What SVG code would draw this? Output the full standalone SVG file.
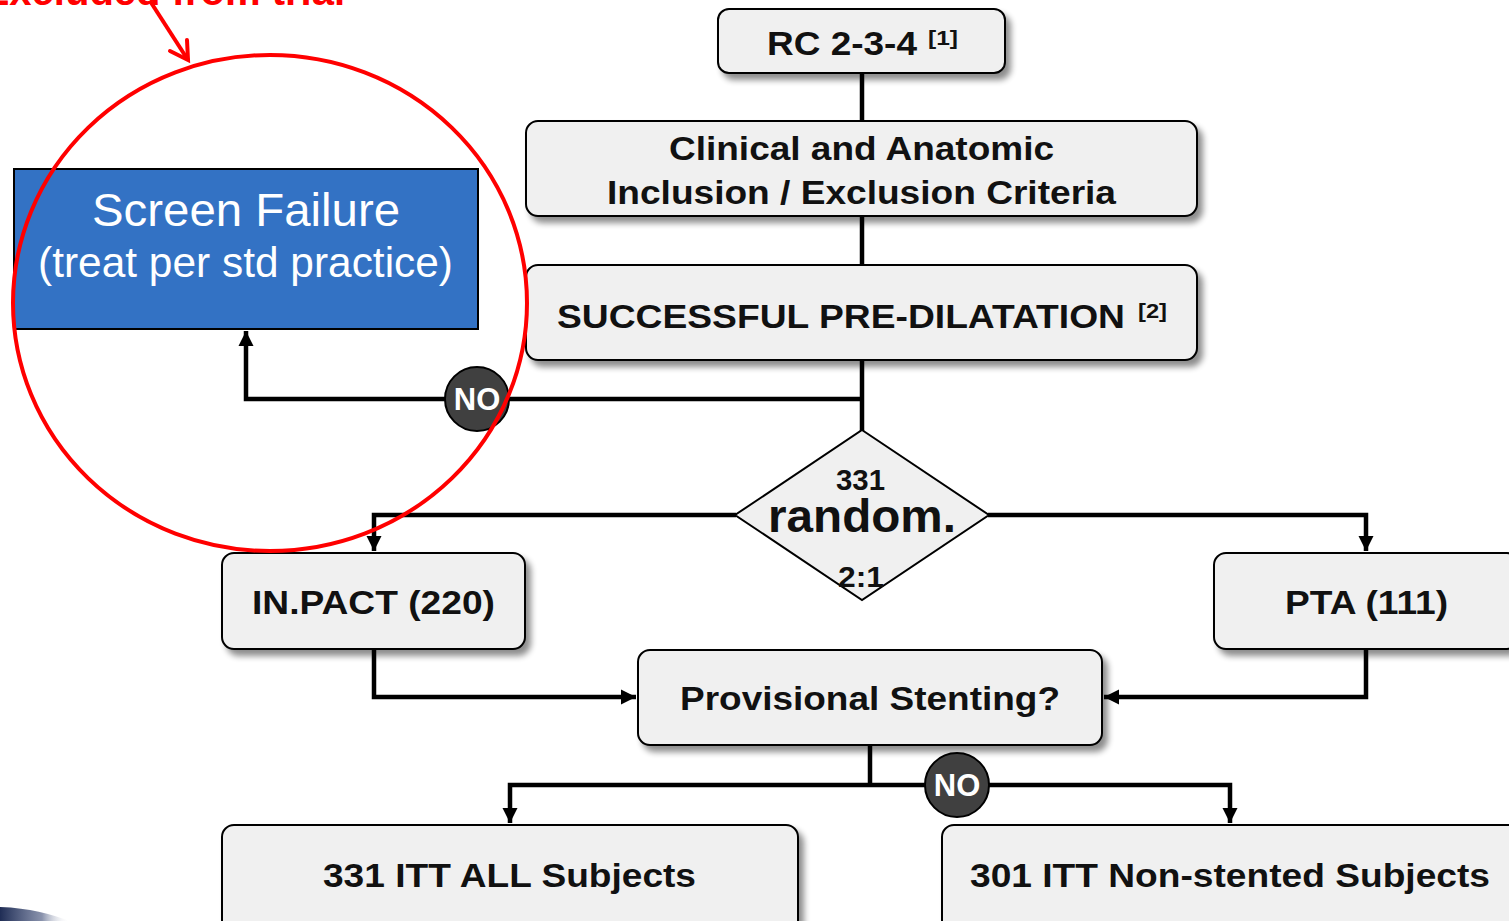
<svg xmlns="http://www.w3.org/2000/svg" width="1509" height="921" viewBox="0 0 1509 921">
<defs>
<filter id="sh" x="-10%" y="-20%" width="130%" height="150%">
<feGaussianBlur in="SourceAlpha" stdDeviation="3"/>
<feOffset dx="5" dy="6" result="b"/>
<feComponentTransfer><feFuncA type="linear" slope="0.45"/></feComponentTransfer>
<feMerge><feMergeNode/><feMergeNode in="SourceGraphic"/></feMerge>
</filter>
<marker id="ah" viewBox="0 0 10 10" refX="10" refY="5" markerWidth="3.4" markerHeight="3.4" orient="auto" markerUnits="strokeWidth">
<path d="M0,0 L10,5 L0,10 z" fill="#000"/>
</marker>
<linearGradient id="sw" x1="0" y1="0" x2="1" y2="0">
<stop offset="0" stop-color="#1f2d55"/>
<stop offset="0.6" stop-color="#3b4a75" stop-opacity="0.6"/>
<stop offset="1" stop-color="#ffffff" stop-opacity="0"/>
</linearGradient>
</defs>
<style>
.box{fill:#f0f0f0;stroke:#000;stroke-width:2;filter:url(#sh)}
.t{font-family:"Liberation Sans",Arial,sans-serif;font-weight:bold;fill:#111}
.c{fill:none;stroke:#000;stroke-width:4.5}
.no{fill:#404040;stroke:#000;stroke-width:2}
.not{font-family:"Liberation Sans",Arial,sans-serif;font-weight:bold;fill:#fff;font-size:31px;text-anchor:middle}
.w{font-family:"Liberation Sans",Arial,sans-serif;fill:#fff}
</style>
<rect width="1509" height="921" fill="#fff"/>
<path d="M0,907 C30,908 50,914 70,921 L0,921 Z" fill="url(#sw)"/>

<g id="connectors">
<path class="c" d="M862,73 V121"/>
<path class="c" d="M862,216 V265"/>
<path class="c" d="M862,360 V432"/>
<path class="c" d="M862,399 H246 V331" marker-end="url(#ah)"/>
<path class="c" d="M736,515 H374 V551" marker-end="url(#ah)"/>
<path class="c" d="M988,515 H1366 V551" marker-end="url(#ah)"/>
<path class="c" d="M374,649 V697 H636" marker-end="url(#ah)"/>
<path class="c" d="M1366,649 V697 H1104" marker-end="url(#ah)"/>
<path class="c" d="M870,745 V785"/>
<path class="c" d="M870,785 H510 V823" marker-end="url(#ah)"/>
<path class="c" d="M870,785 H1230 V823" marker-end="url(#ah)"/>
</g>

<g id="rc">
<rect class="box" x="718" y="9" width="287" height="64" rx="11"/>
<text class="t" x="767" y="55" font-size="34" textLength="150" lengthAdjust="spacingAndGlyphs">RC 2-3-4</text>
<text class="t" x="928" y="45" font-size="21" textLength="30" lengthAdjust="spacingAndGlyphs">[1]</text>
</g>

<g id="criteria">
<rect class="box" x="526" y="121" width="671" height="95" rx="12"/>
<text class="t" x="669" y="160" font-size="34" textLength="385" lengthAdjust="spacingAndGlyphs">Clinical and Anatomic</text>
<text class="t" x="607" y="204" font-size="34" textLength="509" lengthAdjust="spacingAndGlyphs">Inclusion / Exclusion Criteria</text>
</g>

<g id="predil">
<rect class="box" x="526" y="265" width="671" height="95" rx="12"/>
<text class="t" x="557" y="328" font-size="34" textLength="568" lengthAdjust="spacingAndGlyphs">SUCCESSFUL PRE-DILATATION</text>
<text class="t" x="1138" y="318" font-size="21" textLength="29" lengthAdjust="spacingAndGlyphs">[2]</text>
</g>

<g id="screen-failure">
<rect x="14" y="169" width="464" height="160" fill="#3372c4" stroke="#000" stroke-width="2"/>
<text class="w" x="92" y="226" font-size="47" textLength="308" lengthAdjust="spacingAndGlyphs">Screen Failure</text>
<text class="w" x="38" y="277" font-size="42" textLength="415" lengthAdjust="spacingAndGlyphs">(treat per std practice)</text>
</g>

<g id="no1">
<circle class="no" cx="477" cy="399" r="32"/>
<text class="not" x="477" y="410">NO</text>
</g>

<g id="random">
<path d="M862,430 L989,515 L862,600 L735,515 Z" fill="#f0f0f0" stroke="#000" stroke-width="2"/>
<text class="t" x="836" y="490" font-size="29" textLength="49" lengthAdjust="spacingAndGlyphs">331</text>
<text class="t" x="768" y="532" font-size="47" textLength="188" lengthAdjust="spacingAndGlyphs">random.</text>
<text class="t" x="838" y="587" font-size="29" textLength="46" lengthAdjust="spacingAndGlyphs">2:1</text>
</g>

<g id="inpact">
<rect class="box" x="222" y="553" width="303" height="96" rx="12"/>
<text class="t" x="252" y="614" font-size="34" textLength="243" lengthAdjust="spacingAndGlyphs">IN.PACT (220)</text>
</g>

<g id="pta">
<rect class="box" x="1214" y="553" width="305" height="96" rx="12"/>
<text class="t" x="1285" y="614" font-size="34" textLength="163" lengthAdjust="spacingAndGlyphs">PTA (111)</text>
</g>

<g id="provisional">
<rect class="box" x="638" y="650" width="464" height="95" rx="12"/>
<text class="t" x="680" y="710" font-size="34" textLength="380" lengthAdjust="spacingAndGlyphs">Provisional Stenting?</text>
</g>

<g id="no2">
<circle class="no" cx="957" cy="785" r="32"/>
<text class="not" x="957" y="796">NO</text>
</g>

<g id="itt-all">
<rect class="box" x="222" y="825" width="576" height="110" rx="12"/>
<text class="t" x="323" y="887" font-size="34" textLength="373" lengthAdjust="spacingAndGlyphs">331 ITT ALL Subjects</text>
</g>

<g id="itt-ns">
<rect class="box" x="942" y="825" width="580" height="110" rx="12"/>
<text class="t" x="970" y="887" font-size="34" textLength="520" lengthAdjust="spacingAndGlyphs">301 ITT Non-stented Subjects</text>
</g>

<g id="annotation">
<text x="345" y="5" font-family="'Liberation Sans',Arial,sans-serif" font-weight="bold" font-size="40" fill="#ff0000" text-anchor="end">Excluded from trial</text>
<path d="M150,1 L188,60" stroke="#ff0000" stroke-width="4" fill="none"/>
<path d="M170,51 L188,60 L187,40" stroke="#ff0000" stroke-width="4" fill="none" stroke-linecap="round"/>
<ellipse cx="270" cy="303" rx="257" ry="248" fill="none" stroke="#ff0000" stroke-width="4"/>
</g>
</svg>
